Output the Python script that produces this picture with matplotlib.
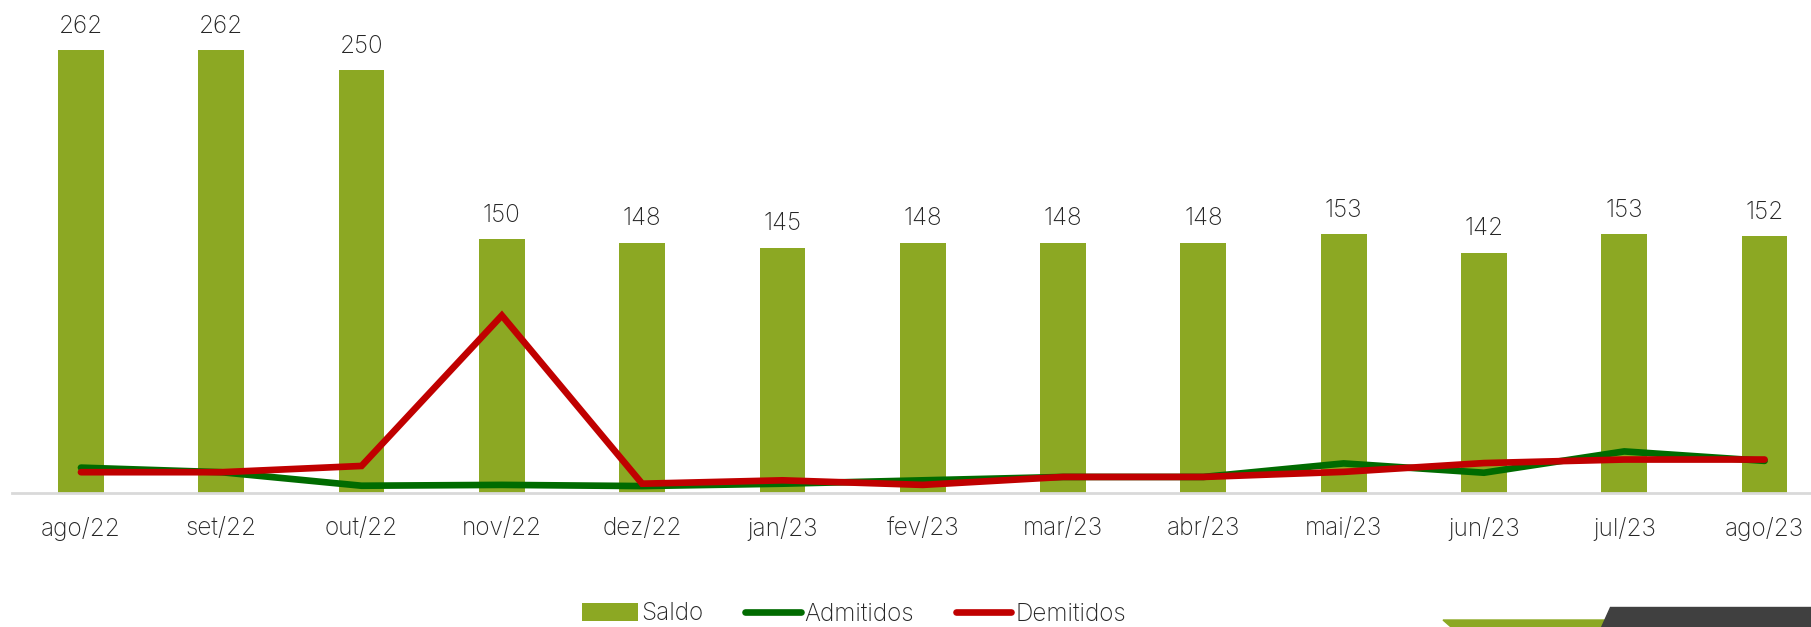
import matplotlib
matplotlib.use("Agg")
import matplotlib.pyplot as plt
from matplotlib.patches import Polygon

categories = ["ago/22", "set/22", "out/22", "nov/22", "dez/22", "jan/23", "fev/23",
              "mar/23", "abr/23", "mai/23", "jun/23", "jul/23", "ago/23"]
saldo = [262, 262, 250, 150, 148, 145, 148, 148, 148, 153, 142, 153, 152]
admitidos = [15, 12.3, 4.3, 4.8, 4.1, 5.5, 7.5, 9.5, 9.5, 17.5, 12.0, 24.6, 19.0]
demitidos = [12.3, 12.3, 16.0, 105, 5.5, 7.5, 4.8, 9.5, 9.5, 12.5, 17.7, 19.8, 19.8]

BAR = "#8CA823"
GREEN = "#006B00"
RED = "#C00000"
TXT = "#262626"

plt.rcParams['font.family'] = ['Inter', 'DejaVu Sans']
FW = 'light'
FS = 17.5

W, H = 1811, 627
fig = plt.figure(figsize=(W / 100, H / 100), dpi=100)
ax = fig.add_axes([11.5 / W, (H - 493) / H, 1 - 11.5 / W, 493 / H])

x = list(range(len(categories)))
bars = ax.bar(x, saldo, width=0.326, color=BAR, zorder=2, label="Saldo")
l1, = ax.plot(x, admitidos, color=GREEN, lw=4.8, solid_capstyle='round', solid_joinstyle='miter',
              zorder=3, label="Admitidos")
l2, = ax.plot(x, demitidos, color=RED, lw=4.8, solid_capstyle='round', solid_joinstyle='miter',
              zorder=4, label="Demitidos")

for xi, v in zip(x, saldo):
    ax.annotate(f"{v}", (xi, v), xytext=(0, 9), textcoords="offset points",
                ha="center", va="bottom", fontsize=FS, color=TXT, fontweight=FW)

ax.set_xlim(-0.495, 12.331)
ax.set_ylim(0, 291.6)
ax.set_xticks(x)
ax.set_xticklabels(categories, fontsize=FS, color=TXT, fontweight=FW)
ax.tick_params(axis='x', length=0, pad=17)
ax.set_yticks([])
for s in ["top", "right", "left"]:
    ax.spines[s].set_visible(False)
ax.spines["bottom"].set_color("#D9D9D9")
ax.spines["bottom"].set_linewidth(2)

leg = fig.legend([bars, l1, l2], ["Saldo", "Admitidos", "Demitidos"],
                 loc="center", bbox_to_anchor=(854 / W, 1 - 614 / H), ncol=3, frameon=False,
                 prop={'size': FS, 'weight': FW}, handlelength=2.3, handletextpad=0.15,
                 columnspacing=1.7, labelcolor=TXT, borderpad=0.1)

# bottom-right decoration
fig.patches.append(Polygon([[1443 / W, 1 - 620 / H], [1605 / W, 1 - 620 / H],
                            [1602 / W, 0], [1451 / W, 0]],
                           closed=True, transform=fig.transFigure, color=BAR, zorder=5))
fig.patches.append(Polygon([[1610 / W, 1 - 607 / H], [1.0, 1 - 607 / H], [1.0, 0],
                            [1601 / W, 0]],
                           closed=True, transform=fig.transFigure, color="#404040", zorder=6))

fig.savefig("out.png", dpi=100)
